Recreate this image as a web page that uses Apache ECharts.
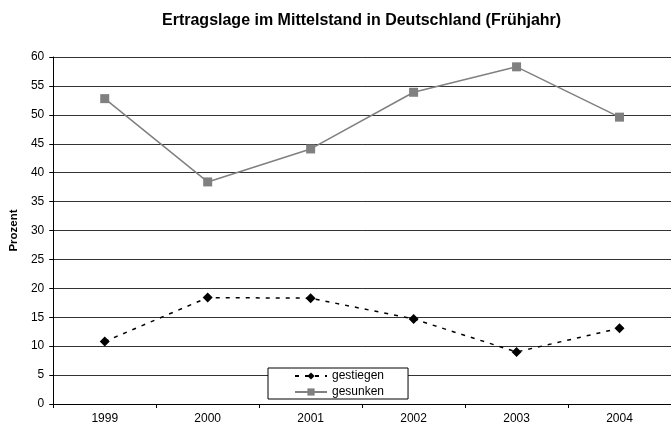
<!DOCTYPE html>
<html><head><meta charset="utf-8">
<script src="https://cdn.jsdelivr.net/npm/echarts@6/dist/echarts.min.js"></script>
<style>html,body{margin:0;padding:0;background:#fff}#c{width:671px;height:429px}</style>
</head><body><div id="c"></div>
<script>
var categories = ['1999','2000','2001','2002','2003','2004'];
var gestiegen = [10.8, 18.4, 18.3, 14.7, 9.0, 13.1];
var gesunken = [52.8, 38.4, 44.1, 53.9, 58.3, 49.6];
var titleText = 'Ertragslage im Mittelstand in Deutschland (Frühjahr)';
var yName = 'Prozent';

var FF = 'Liberation Sans, Arial, sans-serif';
var chart = echarts.init(document.getElementById('c'));
chart.setOption({
  animation: false,
  backgroundColor: '#fff',
  textStyle: {fontFamily: FF},
  title: {text: titleText, left: 157, top: 8,
    textStyle: {fontSize: 16, fontWeight: 'bold', color: '#000', fontFamily: FF}},
  grid: {left: 52, right: 0, top: 57, bottom: 25},
  legend: {
    orient: 'vertical', left: 268, top: 368,
    backgroundColor: '#fff', borderColor: '#000', borderWidth: 1,
    padding: [2, 24, 1, 26], itemGap: 4, itemWidth: 32, itemHeight: 9,
    textStyle: {fontSize: 12, color: '#000', fontFamily: FF},
    data: [{name: 'gestiegen'}, {name: 'gesunken'}]
  },
  xAxis: {
    type: 'category', data: categories, boundaryGap: true,
    axisLine: {lineStyle: {color: '#000', width: 1}},
    axisTick: {show: true, length: 4, inside: false, lineStyle: {color: '#000'}},
    axisLabel: {fontSize: 12, color: '#000', margin: 9, fontFamily: FF}
  },
  yAxis: {
    type: 'value', min: 0, max: 60, interval: 5,
    name: yName, nameLocation: 'middle', nameGap: 26, nameRotate: 90,
    nameTextStyle: {fontSize: 11.5, fontWeight: 'bold', color: '#000', fontFamily: FF},
    axisLine: {show: true, lineStyle: {color: '#000', width: 1}},
    axisTick: {show: true, length: 4, lineStyle: {color: '#000'}},
    axisLabel: {fontSize: 12, color: '#000', margin: 9, fontFamily: FF},
    splitLine: {show: true, lineStyle: {color: '#333', width: 1}}
  },
  series: [
    {name: 'gestiegen', type: 'line', data: gestiegen, symbol: 'diamond', symbolSize: 10,
     itemStyle: {color: '#000'}, lineStyle: {color: '#000', width: 1.5, type: [4, 6]}, z: 3},
    {name: 'gesunken', type: 'line', data: gesunken, symbol: 'rect', symbolSize: 9,
     itemStyle: {color: '#808080'}, lineStyle: {color: '#808080', width: 1.5}, z: 2}
  ]
});
</script></body></html>
